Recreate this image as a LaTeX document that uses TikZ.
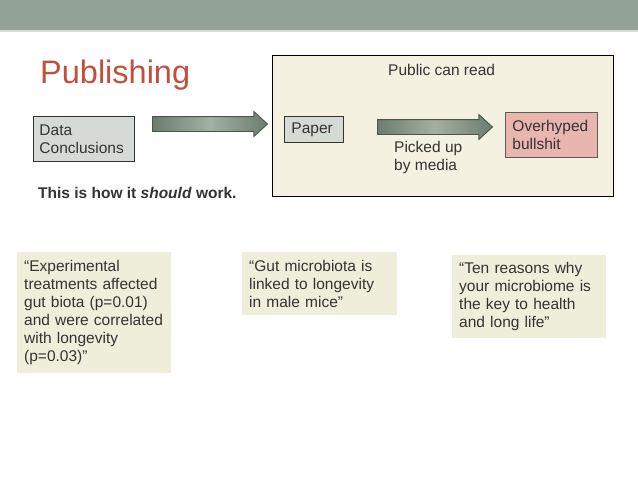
\documentclass[tikz,border=0pt]{standalone}
\usepackage{fontspec}
\setmainfont{Liberation Sans}
\usetikzlibrary{shapes.arrows}
\definecolor{band}{HTML}{93A297}
\definecolor{bandline}{HTML}{D6DCD7}
\definecolor{titlered}{HTML}{C0503D}
\definecolor{txt}{HTML}{333333}
\definecolor{panel}{HTML}{F4F1E0}
\definecolor{quotefill}{HTML}{EFEEDA}
\definecolor{grayfill}{HTML}{D6DAD6}
\definecolor{pinkfill}{HTML}{E9B5AF}
\definecolor{arrdark}{HTML}{6A7D6E}
\definecolor{arrlight}{HTML}{A3B0A5}
\definecolor{arredge}{HTML}{4A564C}
\newcommand{\bodyfont}{\fontsize{15.5}{18}\selectfont}
\tikzset{
  x=1pt, y=-1pt,
  boxed/.style={draw=txt, line width=0.9pt, fill=grayfill, align=left, anchor=north west,
    inner xsep=6pt, inner ysep=0pt, font=\bodyfont, text=txt},
  quotebox/.style={fill=quotefill, align=left, anchor=north west,
    inner xsep=7pt, inner ysep=0pt, font=\bodyfont, text=txt},
  fatarrow/.style={single arrow, draw=arredge, line width=0.9pt, anchor=tail,
    left color=arrdark, right color=arrdark, middle color=arrlight,
    inner sep=7pt, single arrow head extend=5pt, single arrow tip angle=85,
    minimum height=115pt},
  plain/.style={font=\bodyfont, text=txt, inner sep=0pt, align=left}
}
\begin{document}
\begin{tikzpicture}
\useasboundingbox[fill=white] (0,0) rectangle (638,479);
% top band
\fill[band] (0,0) rectangle (638,30);
\draw[bandline, line width=1.5pt] (0,31) -- (638,31);
% title
\node[anchor=base west, inner sep=0pt, text=titlered, font=\fontsize{32.5}{36}\selectfont] (title) at (40,83) {Publishing};
% big panel
\node[draw=black, line width=0.9pt, fill=panel, anchor=north west, minimum width=341pt, minimum height=141pt, inner sep=0pt] (panel) at (272,55) {};
\node[plain, anchor=base west] (public) at (388,75) {Public can read};
% left box and arrow
\node[boxed, text width=89pt, minimum height=45pt] (data) at (33,116) {Data\\Conclusions};
\node[fatarrow] (arr1) at (152,124) {};
% inside panel
\node[boxed, text width=45pt, minimum height=26pt, inner xsep=7pt] (paper) at (284,116) {Paper};
\node[fatarrow] (arr2) at (377,127) {};
\node[plain, anchor=base west] (picked) at (394,170) {Picked up\\by media};
\node[boxed, fill=pinkfill, draw=txt!80, text width=78pt, minimum height=45pt, inner xsep=7pt] (hype) at (505,112) {Overhyped\\bullshit};
% should work
\node[anchor=base west, inner sep=0pt, text=txt, font=\bodyfont\bfseries] (should) at (38,198) {This is how it \textit{should} work.};
% quotes
\node[quotebox, text width=140pt, minimum height=121pt] (q1) at (17,252)
  {“Experimental\\treatments affected\\gut biota (p=0.01)\\and were correlated\\with longevity\\(p=0.03)”};
\node[quotebox, text width=141pt, minimum height=63pt] (q2) at (242,252)
  {“Gut microbiota is\\linked to longevity\\in male mice”};
\node[quotebox, text width=140pt, minimum height=83pt] (q3) at (452,255)
  {“Ten reasons why\\your microbiome is\\the key to health\\and long life”};
\end{tikzpicture}
\end{document}
